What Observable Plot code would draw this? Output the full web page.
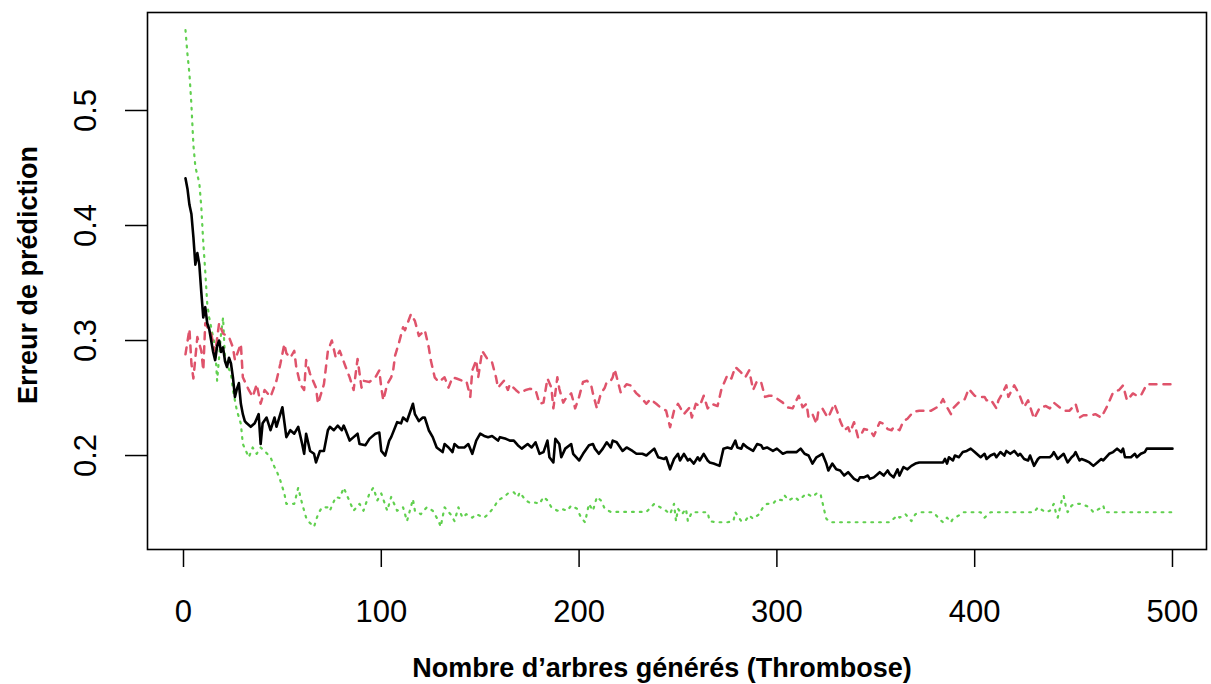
<!DOCTYPE html>
<html>
<head>
<meta charset="utf-8">
<script src="https://cdn.jsdelivr.net/npm/d3@7"></script>
<script src="https://cdn.jsdelivr.net/npm/@observablehq/plot@0.6"></script>
<style>
  html, body { margin: 0; padding: 0; background: #fff; }
  #chart { width: 1211px; height: 684px; }
</style>
</head>
<body>
<div id="chart"></div>
<script>
// Tick labels
const xTicks = [0, 100, 200, 300, 400, 500];
const yTicks = [0.2, 0.3, 0.4, 0.5];
const xTitle = "Nombre d\u2019arbres générés (Thrombose)";
const yTitle = "Erreur de prédiction";

// OOB error (black, solid)
const oobTrees = [1,2,3,4,5,6,7,8,9,10,11,12,13,14,15,16,17,18,19,20,21,22,23,24,25,26,27,28,29,30,31,32,34,36,38,39,40,42,44,46,47,50,52,54,56,58,60,61,62,64,66,67,69,71,73,74,76,78,80,81,82,84,86,88,89,92,94,95,97,99,100,102,104,105,108,110,111,113,116,117,119,121,122,124,126,128,131,132,134,136,137,139,142,144,146,148,150,152,154,156,159,160,163,165,167,169,171,174,176,178,180,182,184,185,187,188,190,191,193,196,197,200,202,205,207,208,210,212,214,216,217,219,222,224,227,229,232,234,235,238,240,243,244,246,248,250,251,253,255,256,258,260,261,263,265,266,268,271,272,273,275,277,279,280,282,283,285,288,290,292,293,295,298,300,303,305,308,310,312,314,316,318,320,323,325,326,328,330,332,334,336,339,341,342,344,346,347,349,351,352,354,356,357,359,361,362,364,366,368,370,372,384,385,386,387,389,390,392,394,396,398,400,401,403,405,406,408,410,411,413,415,416,418,420,422,423,425,427,428,430,432,433,436,438,439,440,442,443,445,447,449,450,451,453,454,456,458,460,462,464,465,468,470,472,474,475,476,479,481,482,484,486,487,500];
const oobErr = [.441,.432,.418,.41,.39,.366,.376,.366,.342,.32,.329,.315,.31,.30,.29,.283,.295,.30,.29,.294,.282,.277,.285,.28,.268,.251,.258,.263,.245,.236,.23,.228,.225,.228,.236,.21,.228,.233,.222,.233,.225,.242,.216,.222,.219,.225,.21,.2015,.219,.204,.2015,.194,.204,.204,.222,.225,.222,.226,.222,.226,.222,.213,.216,.219,.21,.209,.2145,.216,.219,.22,.204,.2,.213,.216,.229,.228,.233,.23,.245,.236,.23,.233,.233,.222,.216,.207,.203,.21,.207,.203,.21,.207,.207,.21,.2015,.213,.219,.217,.216,.217,.213,.216,.2145,.213,.213,.209,.206,.21,.207,.2115,.2015,.203,.213,.1985,.194,.2145,.21,.1985,.206,.21,.2015,.1957,.2015,.209,.21,.206,.2015,.206,.2115,.207,.213,.2115,.204,.207,.204,.2015,.2015,.2,.2015,.206,.1985,.197,.1985,.188,.197,.2015,.1957,.2015,.1957,.197,.193,.1985,.1957,.2015,.1957,.194,.193,.191,.1985,.206,.207,.206,.213,.207,.206,.21,.207,.204,.21,.209,.206,.207,.204,.206,.2015,.203,.203,.203,.206,.2015,.2,.193,.1985,.2015,.193,.187,.193,.188,.187,.1826,.1855,.1797,.178,.181,.181,.1826,.1797,.181,.184,.1855,.1826,.187,.184,.181,.188,.1826,.19,.188,.191,.193,.194,.194,.197,.193,.1985,.1957,.2,.1985,.203,.204,.206,.203,.2015,.1985,.2015,.197,.2,.2015,.1985,.203,.2,.204,.2015,.204,.2,.2015,.197,.1957,.2,.191,.197,.1985,.1985,.1985,.2,.203,.197,.1985,.2015,.194,.1985,.2,.203,.1957,.197,.1957,.194,.191,.194,.197,.1957,.2015,.203,.206,.203,.206,.1985,.1985,.2015,.1985,.2015,.203,.206,.206];

// Class 1 error (red, dashed)
const c1Trees = [1,3,4,5,7,9,10,11,14,16,18,20,23,25,26,29,30,33,35,37,39,41,44,47,49,51,52,54,56,57,59,61,62,64,67,68,71,73,75,77,79,82,84,86,88,90,91,94,97,99,100,101,103,105,106,107,109,111,112,115,117,119,122,124,125,127,129,132,134,136,138,141,143,145,146,148,149,151,154,156,158,159,162,164,165,168,170,173,175,178,180,182,184,186,187,189,190,192,193,196,197,198,200,202,204,206,207,209,211,213,214,216,217,218,221,224,226,229,231,234,236,239,241,244,246,248,250,251,253,256,257,259,261,263,265,267,270,272,275,277,279,282,284,286,288,290,292,294,296,298,303,305,308,309,311,313,315,316,318,320,321,323,325,326,329,331,332,334,336,337,339,341,342,344,347,349,352,354,356,358,359,362,364,366,369,372,378,382,384,386,388,389,393,395,397,400,402,405,406,408,411,412,414,416,417,420,422,423,425,427,430,433,436,438,440,445,448,451,453,455,459,461,464,467,470,473,475,477,480,482,484,487,500];
const c1Err = [.288,.31,.28,.267,.303,.291,.274,.315,.306,.289,.315,.306,.303,.294,.283,.297,.268,.257,.251,.262,.245,.257,.251,.265,.28,.297,.289,.285,.291,.277,.262,.257,.283,.271,.259,.245,.262,.291,.3,.285,.291,.277,.268,.257,.284,.259,.265,.264,.268,.274,.259,.248,.262,.268,.274,.287,.2985,.3115,.309,.323,.317,.304,.309,.294,.283,.268,.264,.268,.259,.268,.267,.265,.265,.251,.274,.283,.268,.291,.283,.281,.268,.259,.265,.257,.262,.257,.254,.257,.258,.257,.245,.246,.267,.259,.241,.268,.258,.246,.249,.254,.248,.241,.251,.264,.265,.262,.254,.241,.254,.259,.264,.265,.268,.275,.255,.262,.261,.254,.251,.245,.249,.245,.242,.239,.2246,.239,.245,.242,.236,.242,.233,.245,.243,.252,.241,.245,.243,.258,.27,.267,.277,.272,.268,.274,.257,.265,.264,.251,.252,.252,.246,.242,.241,.245,.252,.242,.245,.233,.236,.2276,.239,.241,.235,.233,.245,.236,.23,.222,.2246,.22,.229,.216,.216,.223,.222,.217,.229,.2276,.223,.222,.2246,.222,.23,.232,.238,.239,.239,.243,.249,.242,.236,.241,.248,.249,.258,.252,.251,.251,.248,.249,.241,.248,.254,.261,.251,.261,.255,.251,.242,.248,.232,.242,.243,.241,.246,.239,.239,.245,.233,.235,.235,.236,.233,.243,.255,.257,.261,.248,.254,.252,.252,.262,.262];

// Class 2 error (green, dotted)
const c2Trees = [1,2,3,4,5,6,8,9,10,11,12,13,16,17,19,20,21,24,25,27,29,30,33,35,37,39,41,44,46,47,49,51,52,56,58,60,62,63,66,68,70,73,74,77,79,81,83,86,89,91,94,96,98,100,103,105,108,111,113,116,117,120,123,126,129,130,132,135,137,139,141,143,146,148,152,154,157,159,162,164,167,169,170,173,175,178,180,182,184,186,189,191,194,196,199,201,203,205,207,209,211,213,216,234,238,241,244,246,248,249,250,252,254,255,257,265,266,269,275,278,279,282,284,286,288,291,293,295,298,300,303,304,306,309,311,313,315,318,320,322,324,325,327,357,361,362,365,368,370,373,379,380,382,384,386,388,389,392,394,403,405,408,430,432,433,436,438,440,441,442,444,445,446,447,449,451,454,458,460,463,465,466,500];
const c2Err = [.57,.549,.532,.505,.47,.451,.437,.416,.385,.36,.332,.32,.294,.265,.306,.32,.283,.271,.257,.239,.2276,.21,.1985,.207,.2015,.207,.204,.1985,.19,.187,.178,.167,.158,.158,.172,.158,.146,.143,.138,.149,.155,.155,.152,.164,.163,.172,.164,.152,.158,.152,.167,.172,.161,.167,.152,.164,.152,.155,.143,.162,.152,.149,.155,.152,.143,.138,.155,.149,.143,.155,.146,.149,.146,.149,.146,.149,.155,.161,.164,.167,.168,.164,.168,.161,.159,.159,.158,.164,.161,.155,.152,.1537,.152,.1565,.1537,.146,.142,.158,.152,.164,.161,.1537,.151,.151,.158,.155,.152,.149,.158,.143,.1537,.149,.1537,.143,.1507,.1507,.143,.142,.142,.143,.1507,.143,.143,.148,.145,.149,.155,.158,.158,.162,.161,.165,.161,.164,.161,.164,.167,.164,.167,.167,.152,.145,.142,.142,.148,.146,.149,.143,.149,.1507,.1507,.149,.145,.142,.146,.142,.145,.148,.1507,.1507,.146,.1507,.1507,.155,.1537,.1507,.152,.158,.1507,.146,.161,.165,.1565,.1507,.1565,.158,.158,.155,.1507,.1537,.1565,.1507,.1507];

const toRows = (trees, errs) => trees.map((t, i) => ({tree: t, err: errs[i]}));
const oobRows = toRows(oobTrees, oobErr);
const c1Rows = toRows(c1Trees, c1Err);
const c2Rows = toRows(c2Trees, c2Err);

const chart = Plot.plot({
  width: 1211,
  height: 684,
  marginLeft: 147,
  marginRight: 5,
  marginTop: 12,
  marginBottom: 135,
  style: {fontFamily: "'Liberation Sans', Arial, Helvetica, sans-serif", background: "#fff", color: "#000"},
  x: {domain: [-18.2, 517.2]},
  y: {domain: [0.1183, 0.5852]},
  marks: [
    Plot.axisX({ticks: xTicks, tickSize: 18, tickPadding: 32, fontSize: 31, strokeWidth: 1.5, label: null, tickFormat: d3.format("d")}),
    Plot.axisY({ticks: yTicks, tickSize: 22, tickPadding: 30, tickRotate: -90, fontSize: 31, strokeWidth: 1.5, label: null, tickFormat: d3.format(".1f")}),
    Plot.line(c2Rows, {x: "tree", y: "err", stroke: "#61D04F", strokeWidth: 2.2, strokeDasharray: "1.8,6"}),
    Plot.line(c1Rows, {x: "tree", y: "err", stroke: "#DF536B", strokeWidth: 2.5, strokeDasharray: "7,7"}),
    Plot.line(oobRows, {x: "tree", y: "err", stroke: "#000", strokeWidth: 2.6}),
    Plot.frame({stroke: "#000", strokeWidth: 1.6}),
    Plot.text([xTitle], {frameAnchor: "bottom", lineAnchor: "middle", textAnchor: "middle", dy: 119, dx: -15, fontSize: 27, fontWeight: "bold", fill: "#000"}),
    Plot.text([yTitle], {frameAnchor: "left", lineAnchor: "middle", textAnchor: "middle", rotate: -90, dx: -119, dy: -6, fontSize: 27, fontWeight: "bold", fill: "#000"})
  ]
});
document.getElementById("chart").appendChild(chart);
</script>
</body>
</html>
